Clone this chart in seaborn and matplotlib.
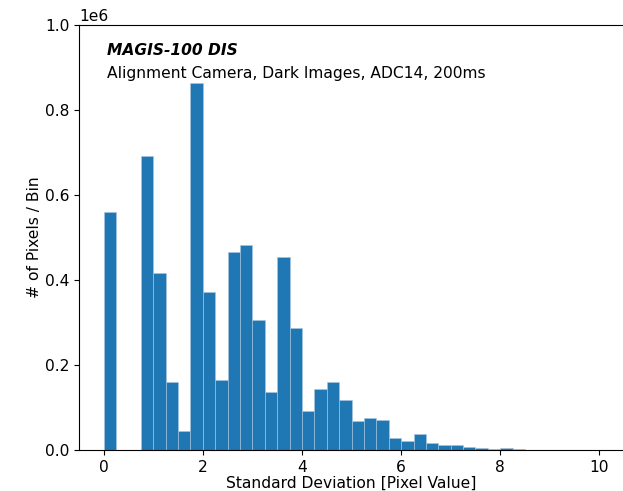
import numpy as np
import pandas as pd
import matplotlib
matplotlib.use("Agg")
import matplotlib.pyplot as plt
import seaborn as sns

# histogram of pixel std-dev, 0.25 wide bins from 0 to 10
bin_width = 0.25
bin_range = (0, 10)
bin_counts = [
    0.561e6, 0, 0, 0.693e6, 0.416e6, 0.161e6, 0.0455e6, 0.864e6,
    0.372e6, 0.165e6, 0.465e6, 0.482e6, 0.305e6, 0.136e6, 0.453e6, 0.287e6,
    0.0925e6, 0.143e6, 0.161e6, 0.118e6, 0.068e6, 0.0745e6, 0.0706e6, 0.0275e6,
    0.0204e6, 0.037e6, 0.0157e6, 0.011e6, 0.011e6, 0.0078e6, 0.004e6, 0.0035e6,
    0.004e6, 0.0015e6, 0.001e6, 0.0003e6, 0, 0, 0, 0,
]
bin_centers = np.arange(len(bin_counts)) * bin_width + bin_width / 2
df = pd.DataFrame({'std': bin_centers, 'count': bin_counts})

title = "MAGIS-100 DIS"
subtitle = "Alignment Camera, Dark Images, ADC14, 200ms"

plt.rcParams['font.size'] = 11.2
fig = plt.figure(figsize=(6.23, 4.91), dpi=100)
ax = fig.add_axes([0.1268, 0.0835, 0.875, 0.8655])

sns.histplot(data=df, x='std', weights='count', binwidth=bin_width,
             binrange=bin_range, ax=ax, color='#1f77b4', alpha=1,
             edgecolor='#a9c8e0', linewidth=0.4)

ax.set_xlim(-0.5, 10.5)
ax.set_ylim(0, 1e6)
ax.set_xlabel("Standard Deviation [Pixel Value]", labelpad=1)
ax.set_ylabel("# of Pixels / Bin", labelpad=2)

ax.text(0.051, 0.94, title, transform=ax.transAxes, fontweight='bold',
        fontstyle='italic', va='center')
ax.text(0.051, 0.887, subtitle, transform=ax.transAxes, va='center')

fig.savefig("out.png", dpi=100)
